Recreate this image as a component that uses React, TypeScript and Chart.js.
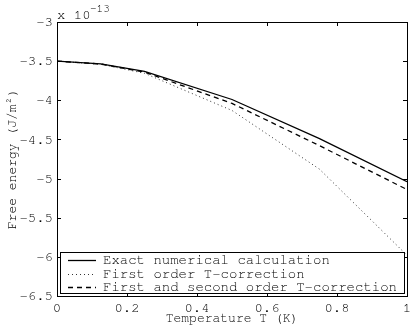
import React, { useEffect, useRef } from "react";
import { Chart, registerables } from "chart.js";

Chart.register(...registerables);

// Temperature T (K)
const temperatures = [0, 0.125, 0.25, 0.5, 0.75, 1];
// Free energy in units of 1e-13 J/m^2
const exactValues = [-3.5, -3.535, -3.63, -3.99, -4.49, -5.04];
const firstOrderValues = [-3.5, -3.54, -3.655, -4.13, -4.88, -5.98];
const firstSecondValues = [-3.5, -3.537, -3.64, -4.04, -4.58, -5.14];

const seriesLabels = [
  "Exact numerical calculation",
  "First order T-correction",
  "First and second order T-correction",
];
const xTicks = [0, 0.2, 0.4, 0.6, 0.8, 1];
const yTicks = [-6.5, -6, -5.5, -5, -4.5, -4, -3.5, -3];

const FONT = "FreeMono";

const bgPlugin = {
  id: "bg",
  beforeDraw(chart: any) {
    const { ctx, width, height } = chart;
    ctx.save();
    ctx.fillStyle = "#fff";
    ctx.fillRect(0, 0, width, height);
    ctx.restore();
  },
};

const framePlugin = {
  id: "frame",
  afterDraw(chart: any) {
    const { ctx, chartArea: a, scales } = chart;
    ctx.save();
    ctx.strokeStyle = "#000";
    ctx.lineWidth = 1;
    // box
    ctx.strokeRect(Math.round(a.left) + 0.5, Math.round(a.top) + 0.5, Math.round(a.right - a.left), Math.round(a.bottom - a.top));
    const tl = 4;
    ctx.beginPath();
    for (const v of xTicks) {
      const x = Math.round(scales.x.getPixelForValue(v)) + 0.5;
      ctx.moveTo(x, a.bottom);
      ctx.lineTo(x, a.bottom - tl);
      ctx.moveTo(x, a.top);
      ctx.lineTo(x, a.top + tl);
    }
    for (const v of yTicks) {
      const y = Math.round(scales.y.getPixelForValue(v)) + 0.5;
      ctx.moveTo(a.left, y);
      ctx.lineTo(a.left + tl, y);
      ctx.moveTo(a.right, y);
      ctx.lineTo(a.right - tl, y);
    }
    ctx.stroke();

    // exponent label
    ctx.fillStyle = "#000";
    ctx.textBaseline = "middle";
    ctx.textAlign = "left";
    ctx.font = `14px ${FONT}`;
    ctx.fillText("x 10", a.left, a.top - 7);
    ctx.font = `11px ${FONT}`;
    ctx.fillText("-13", a.left + 33, a.top - 13);

    // legend
    const lx = a.left + 3;
    const ly = a.bottom - 44;
    const lw = a.right - a.left - 6;
    const lh = 41;
    ctx.fillStyle = "#fff";
    ctx.fillRect(lx, ly, lw, lh);
    ctx.strokeStyle = "#000";
    ctx.strokeRect(Math.round(lx) + 0.5, Math.round(ly) + 0.5, Math.round(lw), Math.round(lh));
    chart.data.datasets.forEach((ds: any, i: number) => {
      const cy = ly + 8 + i * 13.5;
      ctx.save();
      ctx.strokeStyle = ds.borderColor;
      ctx.lineWidth = ds.borderWidth;
      ctx.setLineDash(ds.borderDash || []);
      ctx.beginPath();
      ctx.moveTo(lx + 8, Math.round(cy) + 0.5);
      ctx.lineTo(lx + 36, Math.round(cy) + 0.5);
      ctx.stroke();
      ctx.restore();
      ctx.fillStyle = "#000";
      ctx.font = `14px ${FONT}`;
      ctx.textAlign = "left";
      ctx.textBaseline = "middle";
      ctx.fillText(ds.label, lx + 43, cy);
    });
    ctx.restore();
  },
};

export default function App() {
  const ref = useRef<HTMLCanvasElement | null>(null);
  useEffect(() => {
    document.body.style.margin = "0";
    const mk = (ys: number[]) => temperatures.map((x, i) => ({ x, y: ys[i] }));
    const chart = new Chart(ref.current as HTMLCanvasElement, {
      type: "line",
      data: {
        datasets: [
          { label: seriesLabels[0], data: mk(exactValues), borderColor: "#000", borderWidth: 1.3, pointRadius: 0, borderDash: [] },
          { label: seriesLabels[1], data: mk(firstOrderValues), borderColor: "#333", borderWidth: 1, pointRadius: 0, borderDash: [1, 3] },
          { label: seriesLabels[2], data: mk(firstSecondValues), borderColor: "#000", borderWidth: 1.3, pointRadius: 0, borderDash: [5, 4] },
        ],
      },
      options: {
        animation: false,
        responsive: false,
        maintainAspectRatio: false,
        layout: { padding: { top: 22, right: 8, left: 0, bottom: 0 } },
        plugins: { legend: { display: false }, tooltip: { enabled: false } },
        scales: {
          x: {
            type: "linear",
            min: 0,
            max: 1,
            afterBuildTicks: (s: any) => { s.ticks = xTicks.map((v) => ({ value: v })); },
            afterFit: (s: any) => { s.height = 32; },
            grid: { display: false, drawTicks: false },
            border: { display: false },
            ticks: {
              padding: 3,
              color: "#000",
              font: { family: FONT, size: 14 },
              callback: (v: any) => String(Number(Number(v).toFixed(1))),
            },
            title: {
              display: true,
              text: "Temperature T (K)",
              color: "#000",
              font: { family: FONT, size: 13 },
              padding: { top: 0, bottom: 2 },
            },
          },
          y: {
            type: "linear",
            min: -6.5,
            max: -3,
            afterBuildTicks: (s: any) => { s.ticks = yTicks.map((v) => ({ value: v })); },
            afterFit: (s: any) => { s.width = 57; },
            grid: { display: false, drawTicks: false },
            border: { display: false },
            ticks: {
              padding: 4,
              color: "#000",
              font: { family: FONT, size: 14 },
              callback: (v: any) => String(Number(Number(v).toFixed(1))),
            },
            title: {
              display: true,
              text: "Free energy (J/m²)",
              color: "#000",
              font: { family: FONT, size: 13 },
              padding: { top: 4, bottom: 0 },
            },
          },
        },
      },
      plugins: [bgPlugin, framePlugin],
    } as any);
    return () => chart.destroy();
  }, []);
  return (
    <div style={{ position: "absolute", left: 0, top: 0, width: 415, height: 328 }}>
      <canvas ref={ref} width={415} height={328} style={{ width: 415, height: 328 }} />
    </div>
  );
}
